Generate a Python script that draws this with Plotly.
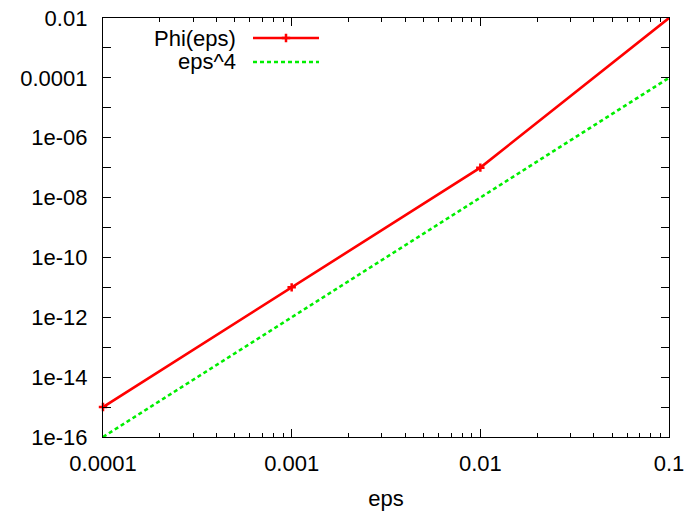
import plotly.graph_objects as go

eps = [1e-4, 1e-3, 1e-2, 1e-1]
phi = [1e-15, 1e-11, 1e-7, 1e-2]
eps4 = [1e-16, 1e-12, 1e-8, 1e-4]

x_ticks = [1e-4, 1e-3, 1e-2, 1e-1]
x_labels = ["0.0001", "0.001", "0.01", "0.1"]
y_ticks = [1e-16, 1e-14, 1e-12, 1e-10, 1e-8, 1e-6, 1e-4, 1e-2]
y_labels = ["1e-16", "1e-14", "1e-12", "1e-10", "1e-08", "1e-06", "0.0001", "0.01"]
y_minor = [1e-15, 1e-13, 1e-11, 1e-9, 1e-7, 1e-5, 1e-3]
x_minor = [m * 10.0 ** k for k in (-4, -3, -2) for m in range(2, 10)]

RED = "#ff0000"
GREEN = "#00ee00"
FONT = "Liberation Sans, Arial, sans-serif"
FS = 22
LW = 2.6
GDASH = "4px,3px"

L, R, T, B = 103, 669, 18, 437
PW, PH = R - L, B - T

fig = go.Figure()
fig.add_trace(go.Scatter(x=eps, y=phi, mode="lines+markers", name="Phi(eps)",
                         line=dict(color=RED, width=LW),
                         marker=dict(symbol="cross-thin", size=6, line=dict(color=RED, width=2.5)),
                         cliponaxis=False, showlegend=False))
fig.add_trace(go.Scatter(x=eps, y=eps4, mode="lines", name="eps^4",
                         line=dict(color=GREEN, width=LW, dash=GDASH),
                         cliponaxis=False, showlegend=False))

# gnuplot-style legend: right-aligned text followed by sample line
legend_items = [("Phi(eps)", RED, "solid", True, 38), ("eps^4", GREEN, GDASH, False, 62)]
x0p, x1p = (253 - L) / PW, (319 - L) / PW
for name, col, dash, mk, ypx in legend_items:
    yp = (B - ypx) / PH
    fig.add_annotation(x=(238 - L) / PW, y=yp, xref="paper", yref="paper", text=name,
                       showarrow=False, xanchor="right", yanchor="middle",
                       font=dict(family=FONT, size=FS, color="black"))
    fig.add_shape(type="line", xref="paper", yref="paper", x0=x0p, x1=x1p, y0=yp, y1=yp,
                  line=dict(color=col, width=LW, dash=dash))
    if mk:
        fig.add_trace(go.Scatter(x=[(x0p + x1p) / 2], y=[yp], xaxis="x2", yaxis="y2",
                                 mode="markers", showlegend=False, hoverinfo="skip",
                                 marker=dict(symbol="cross-thin", size=6, line=dict(color=col, width=2.5))))

axis_common = dict(type="log", showgrid=False, zeroline=False, showline=True, automargin=False,
                   linecolor="black", linewidth=1.3, mirror="allticks", ticks="inside",
                   ticklen=8, tickcolor="black", tickfont=dict(family=FONT, size=FS, color="black"))

fig.update_layout(
    width=689, height=514, plot_bgcolor="white", paper_bgcolor="white",
    margin=dict(l=L, r=689 - R, t=T, b=514 - B),
    font=dict(family=FONT, size=FS, color="black"),
    xaxis=dict(**axis_common, range=[-4, -1], tickmode="array", tickvals=x_ticks, ticktext=x_labels,
               ticklabelstandoff=6,
               minor=dict(tickmode="array", tickvals=x_minor, ticks="inside", ticklen=4, tickcolor="black"),
               title=dict(text="eps", font=dict(family=FONT, size=FS), standoff=16)),
    yaxis=dict(**axis_common, range=[-16, -2], tickmode="array", tickvals=y_ticks, ticktext=y_labels,
               ticklabelstandoff=10,
               minor=dict(tickmode="array", tickvals=y_minor, ticks="inside", ticklen=8, tickcolor="black")),
    xaxis2=dict(range=[0, 1], overlaying="x", visible=False),
    yaxis2=dict(range=[0, 1], overlaying="y", visible=False),
)

fig.write_html("out.html", config={"displayModeBar": False},
               post_script="document.body.style.margin='0';document.body.style.overflow='hidden';")
